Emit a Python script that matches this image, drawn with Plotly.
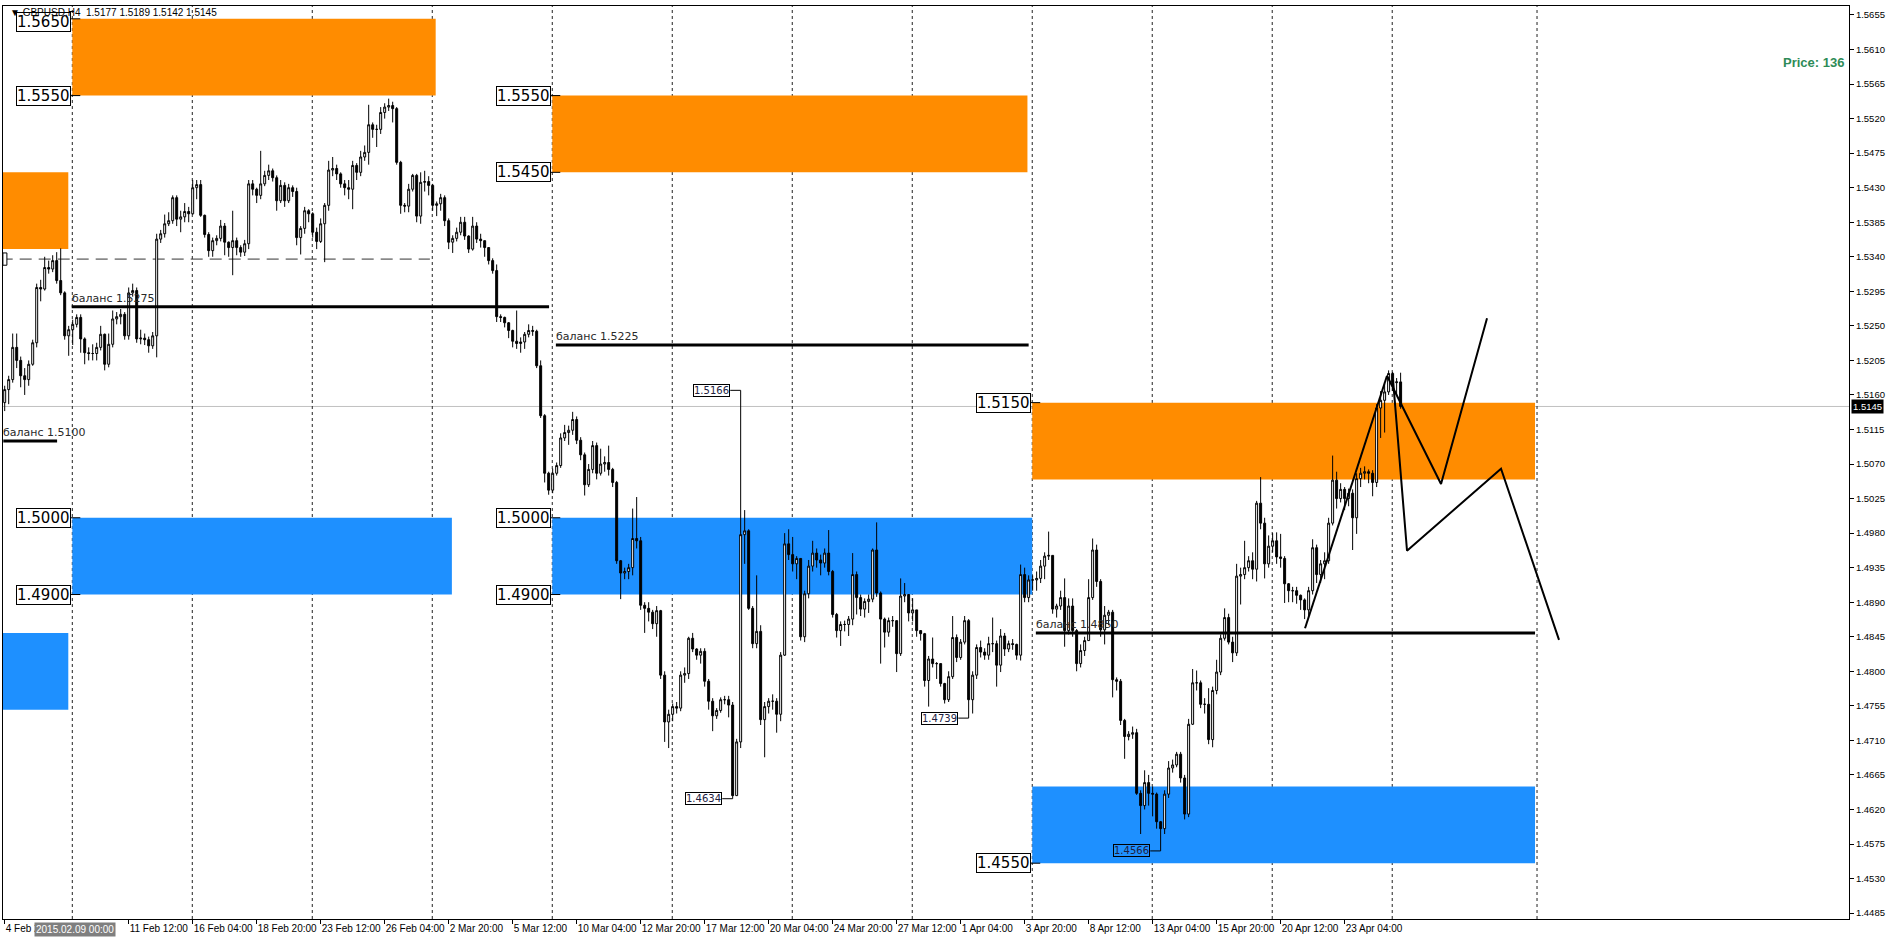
import plotly.graph_objects as go

# ---------------- data (prices in pips above 1.4000: price = 1.4 + v/10000) -------------
first_open = 1150
closes = [1167,1180,1222,1205,1185,1180,1200,1228,1300,1298,1326,1324,1335,1309,1293,1237,1245,1252,1261,1233,
          1215,1214,1214,1222,1239,1200,1226,1259,1262,1265,1237,1293,1296,1233,1234,1232,1224,1237,1363,1370,
          1383,1387,1417,1389,1392,1399,1396,1430,1434,1394,1369,1348,1361,1364,1380,1359,1352,1361,1352,1346,
          1357,1435,1428,1420,1435,1446,1452,1443,1413,1433,1413,1430,1425,1365,1377,1400,1396,1372,1360,1383,
          1407,1453,1455,1448,1435,1430,1428,1459,1450,1470,1476,1512,1506,1506,1528,1535,1537,1533,1463,1407,
          1406,1428,1446,1393,1437,1438,1433,1407,1409,1417,1387,1359,1364,1372,1385,1367,1350,1380,1363,1361,
          1352,1335,1322,1262,1261,1254,1244,1230,1227,1229,1239,1244,1243,1198,1133,1058,1036,1058,1068,1104,
          1111,1114,1128,1101,1082,1043,1063,1094,1058,1070,1072,1063,1046,944,928,930,935,973,970,886,
          882,877,862,879,795,734,744,754,752,795,797,843,829,821,826,787,761,742,749,763,
          763,756,638,708,978,983,882,836,852,737,754,761,761,744,821,966,952,940,947,845,
          901,937,954,945,941,954,930,874,853,861,861,868,926,896,881,891,894,958,902,868,
          851,866,866,823,898,900,876,880,853,849,788,816,810,810,784,763,793,844,818,838,
          866,763,795,831,825,821,836,836,808,846,829,836,835,821,926,896,919,919,921,937,
          950,951,881,885,896,853,885,853,810,827,840,896,958,917,854,873,877,789,787,736,
          715,718,720,641,625,655,641,640,604,595,640,674,678,692,661,614,731,785,785,757,
          757,711,775,799,843,870,838,824,924,926,935,944,933,1019,993,940,963,970,949,947,
          914,905,905,899,893,880,905,961,926,940,944,993,1049,1025,1037,1025,1032,1000,1051,1058,
          1060,1058,1046,1143,1153,1164,1188,1176,1177,1145]
highs = [1172,1185,1240,1240,1210,1195,1205,1232,1305,1310,1340,1335,1342,1346,1351,1295,1250,1258,1265,1265,
         1235,1222,1226,1228,1250,1240,1240,1270,1268,1272,1268,1300,1305,1300,1245,1240,1236,1242,1370,1375,
         1395,1398,1420,1420,1400,1410,1405,1440,1440,1440,1395,1372,1365,1368,1388,1384,1360,1400,1365,1355,
         1362,1440,1440,1430,1478,1452,1460,1455,1446,1440,1437,1435,1433,1430,1380,1405,1402,1398,1378,1390,
         1410,1465,1470,1460,1450,1440,1440,1465,1462,1478,1485,1538,1515,1512,1535,1540,1546,1542,1535,1465,
         1410,1435,1448,1448,1450,1452,1445,1435,1412,1422,1420,1390,1368,1378,1392,1392,1368,1392,1385,1370,
         1360,1352,1338,1330,1265,1262,1255,1245,1270,1235,1242,1252,1250,1245,1205,1135,1060,1064,1072,1110,
         1121,1120,1138,1132,1105,1085,1070,1100,1098,1090,1080,1094,1065,1048,945,935,940,1012,1027,975,
         890,890,880,885,880,800,750,758,760,800,805,845,850,830,830,830,790,765,752,766,
         768,768,760,712,1166,1010,985,885,925,860,760,765,770,765,825,980,985,975,950,945,
         905,945,970,960,952,960,984,932,876,865,866,872,954,930,900,895,900,960,994,904,
         870,870,872,866,921,915,900,895,880,853,850,820,844,812,810,785,800,872,848,842,
         872,868,800,835,840,830,845,870,840,855,850,840,842,836,939,935,925,925,930,945,
         955,982,950,888,905,921,895,895,855,835,845,920,973,965,920,885,880,880,792,790,
         738,722,728,725,645,671,665,650,642,605,645,683,685,695,695,665,738,803,801,788,
         765,778,780,815,848,882,875,845,940,935,970,950,955,1022,1053,1000,977,980,981,979,
         950,915,910,910,900,895,910,972,965,945,955,1000,1081,1060,1045,1040,1038,1037,1058,1065,
         1067,1063,1062,1148,1165,1175,1192,1190,1182,1189]
lows = [1139,1148,1176,1195,1170,1160,1172,1198,1222,1282,1296,1318,1320,1305,1290,1232,1211,1225,1248,1215,
        1200,1205,1205,1205,1218,1192,1196,1222,1252,1252,1232,1232,1288,1228,1226,1225,1215,1220,1209,1358,
        1365,1380,1383,1380,1372,1385,1385,1395,1415,1392,1365,1340,1340,1355,1360,1342,1340,1316,1342,1340,
        1341,1350,1420,1410,1415,1432,1440,1438,1400,1410,1405,1410,1418,1355,1343,1370,1385,1365,1350,1358,
        1333,1400,1445,1440,1430,1420,1415,1402,1440,1445,1465,1460,1495,1483,1500,1520,1530,1515,1460,1396,
        1398,1398,1425,1385,1383,1425,1420,1400,1393,1400,1380,1350,1345,1360,1368,1362,1345,1348,1358,1352,
        1340,1330,1318,1255,1255,1248,1234,1222,1220,1215,1220,1235,1237,1195,1130,1046,1030,1032,1055,1065,
        1100,1095,1108,1096,1075,1029,1040,1058,1050,1055,1060,1055,1040,940,894,920,920,925,960,880,
        850,865,855,845,790,708,700,735,745,748,785,790,825,815,810,780,750,722,738,746,
        757,740,634,640,700,940,880,830,830,730,688,745,750,720,735,820,945,930,920,840,
        838,895,930,935,925,935,925,870,844,833,852,846,860,874,872,870,876,890,897,810,
        831,845,858,799,820,890,865,865,845,840,780,754,805,790,780,758,760,790,812,815,
        835,739,745,790,818,815,815,825,780,799,820,825,828,815,814,890,890,905,905,915,
        920,945,875,870,880,832,848,845,800,805,820,840,893,910,845,835,860,766,775,730,
        686,710,712,639,588,620,625,611,595,566,588,635,668,675,655,607,610,730,775,752,
        745,705,701,770,795,840,835,812,820,887,920,930,920,917,985,921,935,955,940,935,
        889,890,890,888,880,868,870,900,915,915,920,940,990,1012,1020,1010,1015,958,979,1040,
        1050,1045,1028,1040,1104,1111,1160,1165,1160,1142]

opens = [first_open] + closes[:-1]

def pr(v):
    return 1.4 + v / 10000.0

bars = list(range(len(closes)))
o = [pr(v) for v in opens]
c = [pr(v) for v in closes]
h = [max(pr(hv), oo, cc) for hv, oo, cc in zip(highs, o, c)]
l = [min(pr(lv), oo, cc) for lv, oo, cc in zip(lows, o, c)]

# price axis ticks
price_ticks = [1.5655, 1.5610, 1.5565, 1.5520, 1.5475, 1.5430, 1.5385, 1.5340, 1.5295, 1.5250, 1.5205,
               1.5160, 1.5115, 1.5070, 1.5025, 1.4980, 1.4935, 1.4890, 1.4845, 1.4800, 1.4755, 1.4710,
               1.4665, 1.4620, 1.4575, 1.4530, 1.4485]
# time axis labels (bar index of each label)
time_label_bars = [0] + [31 + 16 * k for k in range(20)]
time_labels = ["4 Feb 2015 08:00", "11 Feb 12:00", "16 Feb 04:00", "18 Feb 20:00", "23 Feb 12:00",
               "26 Feb 04:00", "2 Mar 20:00", "5 Mar 12:00", "10 Mar 04:00", "12 Mar 20:00",
               "17 Mar 12:00", "20 Mar 04:00", "24 Mar 20:00", "27 Mar 12:00", "1 Apr 04:00",
               "3 Apr 20:00", "8 Apr 12:00", "13 Apr 04:00", "15 Apr 20:00", "20 Apr 12:00", "23 Apr 04:00"]
week_sep_bars = [16.9, 46.9, 76.9, 106.9, 136.9, 166.9, 196.9, 226.9, 256.9, 286.9, 316.9, 346.9, 383.1]

# supply / demand zones
zone_x0 = [16.9, -2, -2, 16.9, 136.9, 136.9, 256.9, 256.9]
zone_x1 = [107.75, 15.9, 15.9, 111.8, 255.7, 256.9, 382.6, 382.6]
zone_lo = [1.5550, 1.5350, 1.4750, 1.4900, 1.5450, 1.4900, 1.5050, 1.4550]
zone_hi = [1.5650, 1.5450, 1.4850, 1.5000, 1.5550, 1.5000, 1.5150, 1.4650]
zone_kind = ["supply", "supply", "demand", "demand", "supply", "demand", "supply", "demand"]

# zone price labels
zlab_text = ["1.5650", "1.5550", "1.5000", "1.4900", "1.5550", "1.5450", "1.5000", "1.4900", "1.5150", "1.4550"]
zlab_bar = [16.9, 16.9, 16.9, 16.9, 136.9, 136.9, 136.9, 136.9, 256.9, 256.9]
zlab_price = [1.5650, 1.5550, 1.5000, 1.4900, 1.5550, 1.5450, 1.5000, 1.4900, 1.5150, 1.4550]

# balance lines
bal_x0 = [-0.35, 16.75, 137.8, 257.8]
bal_x1 = [13.1, 136.1, 256.0, 382.6]
bal_price = [1.5100, 1.5275, 1.5225, 1.4850]
bal_text = ["баланс 1.5100", "баланс 1.5275", "баланс 1.5225", "баланс 1.4850"]

# extreme labels
ext_text = ["1.5166", "1.4634", "1.4739", "1.4566"]
ext_bar = [184, 182, 241, 289]
ext_price = [1.5166, 1.4634, 1.4739, 1.4566]

# projection zigzags
zig_a_x = [325.1, 345.6]
zig_a_y = [1.4856, 1.5185]
zig_b_x = [345.6, 359.1, 370.6]
zig_b_y = [1.5185, 1.5044, 1.5260]
zig_c_x = [347.1, 350.6, 374.1, 388.6]
zig_c_y = [1.5180, 1.4957, 1.5064, 1.4841]

dash_level = 1.5337
dash_end_bar = 106.3
last_price = 1.5145

# ---------------- figure -------------------
ORANGE = "#FF8C00"
BLUE = "#1E90FF"
FONT = "Liberation Sans"

fig = go.Figure()

shapes = []
for x0, x1, lo, hi, kind in zip(zone_x0, zone_x1, zone_lo, zone_hi, zone_kind):
    shapes.append(dict(type="rect", xref="x", yref="y", x0=x0, x1=x1, y0=lo, y1=hi,
                       fillcolor=ORANGE if kind == "supply" else BLUE, line=dict(width=0), layer="below"))
# current price line
shapes.append(dict(type="line", xref="paper", yref="y", x0=0, x1=1, y0=last_price, y1=last_price,
                   line=dict(color="#C0C0C0", width=1), layer="below"))
# weekly separators
for xb in week_sep_bars:
    shapes.append(dict(type="line", xref="x", yref="paper", x0=xb, x1=xb, y0=0, y1=1,
                       line=dict(color="#222222", width=1, dash="3px,3px"), layer="below"))
# dashed level
shapes.append(dict(type="line", xref="x", yref="y", x0=-1, x1=dash_end_bar, y0=dash_level, y1=dash_level,
                   line=dict(color="#333333", width=1, dash="12px,7px"), layer="below"))
shapes.append(dict(type="rect", xref="x", yref="y", x0=-0.45, x1=0.55, y0=dash_level - 0.0008,
                   y1=dash_level + 0.0008, line=dict(color="black", width=1), fillcolor="white", layer="below"))

fig.add_trace(go.Candlestick(
    x=bars, open=o, high=h, low=l, close=c,
    increasing=dict(line=dict(color="black", width=1), fillcolor="white"),
    decreasing=dict(line=dict(color="black", width=1), fillcolor="black"),
    whiskerwidth=0, showlegend=False, hoverinfo="skip"))

# balance lines
for x0, x1, p in zip(bal_x0, bal_x1, bal_price):
    shapes.append(dict(type="line", xref="x", yref="y", x0=x0, x1=x1, y0=p, y1=p,
                       line=dict(color="black", width=3), layer="above"))
# zone label leaders
for xb, p in zip(zlab_bar, zlab_price):
    shapes.append(dict(type="line", xref="x", yref="y", x0=xb - 0.4, x1=xb + 2.0, y0=p, y1=p,
                       line=dict(color="black", width=1), layer="above"))
# extreme label leaders
for xb, p in zip(ext_bar, ext_price):
    shapes.append(dict(type="line", xref="x", yref="y", x0=xb - 2.6, x1=xb, y0=p, y1=p,
                       line=dict(color="black", width=1), layer="above"))

for zx, zy in ((zig_a_x, zig_a_y), (zig_b_x, zig_b_y), (zig_c_x, zig_c_y)):
    fig.add_trace(go.Scatter(x=zx, y=zy, mode="lines", line=dict(color="black", width=2),
                             showlegend=False, hoverinfo="skip"))

annotations = []
for t, xb, p in zip(zlab_text, zlab_bar, zlab_price):
    annotations.append(dict(x=xb, y=p, xref="x", yref="y", text=t, showarrow=False, xanchor="right",
                            yanchor="middle", xshift=-1, yshift=(-3 if p > 1.56 else 0),
                            bgcolor="white", bordercolor="black", borderwidth=1,
                            borderpad=0, font=dict(family="DejaVu Sans", size=15, color="black")))
for t, x0, p in zip(bal_text, bal_x0, bal_price):
    annotations.append(dict(x=x0, y=p, xref="x", yref="y", text=t, showarrow=False, xanchor="left",
                            yanchor="bottom", xshift=-2, yshift=0,
                            font=dict(family="DejaVu Sans", size=11, color="#2a2a2a")))
for t, xb, p in zip(ext_text, ext_bar, ext_price):
    annotations.append(dict(x=xb - 2.6, y=p, xref="x", yref="y", text=t, showarrow=False, xanchor="right",
                            yanchor="middle", bordercolor="black", borderwidth=1, borderpad=0,
                            font=dict(family="DejaVu Sans", size=10, color="#202040")))
annotations.append(dict(x=1, y=0.9376, xref="paper", yref="paper", xanchor="right", yanchor="middle",
                        xshift=-3, text="<b>Price: 136</b>", showarrow=False,
                        font=dict(family=FONT, size=13, color="#2E8B57")))
annotations.append(dict(x=1, y=last_price, xref="paper", yref="y", xanchor="left", yanchor="middle",
                        xshift=2, text="1.5145", showarrow=False, bgcolor="black", borderpad=1,
                        font=dict(family=FONT, size=9.5, color="white")))
annotations.append(dict(x=0.0168, y=0, xref="paper", yref="paper", xanchor="left", yanchor="top",
                        yshift=-3, text="2015.02.09 00:00", showarrow=False, bgcolor="#7F7F7F", borderpad=1,
                        font=dict(family=FONT, size=10, color="white")))
# chart header drawn last (on top of the label box, as in the terminal)
annotations.append(dict(x=0.0027, y=1, xref="paper", yref="paper", xanchor="left", yanchor="middle",
                        yshift=-6, text="▼ GBPUSD,H4  1.5177 1.5189 1.5142 1.5145", showarrow=False,
                        font=dict(family=FONT, size=10, color="black")))

fig.update_layout(
    width=1891, height=939,
    margin=dict(l=3, r=42, t=6, b=20, autoexpand=False),
    paper_bgcolor="white", plot_bgcolor="white",
    shapes=shapes, annotations=annotations,
    showlegend=False, hovermode=False,
    xaxis=dict(range=[-0.425, 461.1], showgrid=False, zeroline=False, rangeslider=dict(visible=False),
               showline=True, mirror=True, linecolor="black", linewidth=1, automargin=False,
               tickmode="array", tickvals=time_label_bars, ticktext=time_labels, tickangle=0,
               ticks="outside", ticklen=4, tickcolor="black", ticklabelposition="outside right",
               tickfont=dict(family=FONT, size=10, color="black")),
    yaxis=dict(range=[1.44773, 1.56667], side="right", showgrid=False, zeroline=False, automargin=False,
               showline=True, mirror=True, linecolor="black", linewidth=1,
               tickmode="array", tickvals=price_ticks, ticktext=["%.4f" % v for v in price_ticks],
               ticks="outside", ticklen=4, tickcolor="black",
               tickfont=dict(family=FONT, size=9.5, color="black")),
)

fig.write_html("out.html", config={"displayModeBar": False},
               post_script="document.body.style.margin='0';")
